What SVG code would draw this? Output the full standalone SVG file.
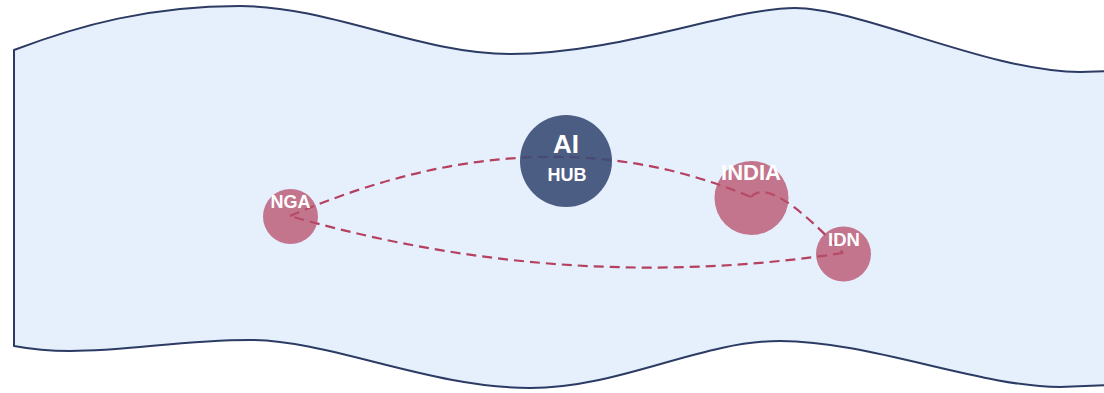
<svg xmlns="http://www.w3.org/2000/svg" width="1104" height="393" viewBox="0 0 1104 393">
<style>
.band{fill:#e5f0fc;stroke:#2c3b64;stroke-width:2;stroke-linejoin:round}
.link{fill:none;stroke:#b5405f;stroke-width:2.2;stroke-dasharray:10 6}
.country{fill:#b84d69;opacity:0.76}
.hub{fill:#3b4c75;opacity:0.9}
.lbl{fill:#ffffff;font-family:"Liberation Sans",Arial,sans-serif;font-weight:bold;text-anchor:middle}
</style>
<rect width="1104" height="393" fill="#ffffff"/>
<path class="band" d="M14,50 C80,25 150,6 240,6 C330,6 420,54 510,54 C620,54 730,8 795,8 C860,8 990,72 1080,72 L1112,71 L1112,385 L1060,387 C980,387 870,341 780,341 C700,341 620,388 530,388 C430,388 330,340 250,340 C180,340 130,351 70,351 C50,351 30,349 14,346 Z"/>
<g id="connectors">
<path class="link" d="M290,216 Q540,108 751,197"/>
<path class="link" d="M751,197 Q770,175 843,253"/>
<path class="link" d="M843,253 Q565,295 290,216"/>
</g>
<g id="node-nga">
<circle class="country" cx="290.5" cy="216.5" r="27.5"/>
<text class="lbl" x="290.5" y="207.5" font-size="18">NGA</text>
</g>
<g id="node-ai-hub">
<circle class="hub" cx="566" cy="161" r="46"/>
<text class="lbl" x="566" y="152.5" font-size="26">AI</text>
<text class="lbl" x="567" y="180.5" font-size="18">HUB</text>
</g>
<g id="node-india">
<circle class="country" cx="751.5" cy="198" r="37"/>
<text class="lbl" x="751" y="179.5" font-size="22">INDIA</text>
</g>
<g id="node-idn">
<circle class="country" cx="843.5" cy="254" r="27.5"/>
<text class="lbl" x="844" y="245.5" font-size="18.5">IDN</text>
</g>
</svg>
